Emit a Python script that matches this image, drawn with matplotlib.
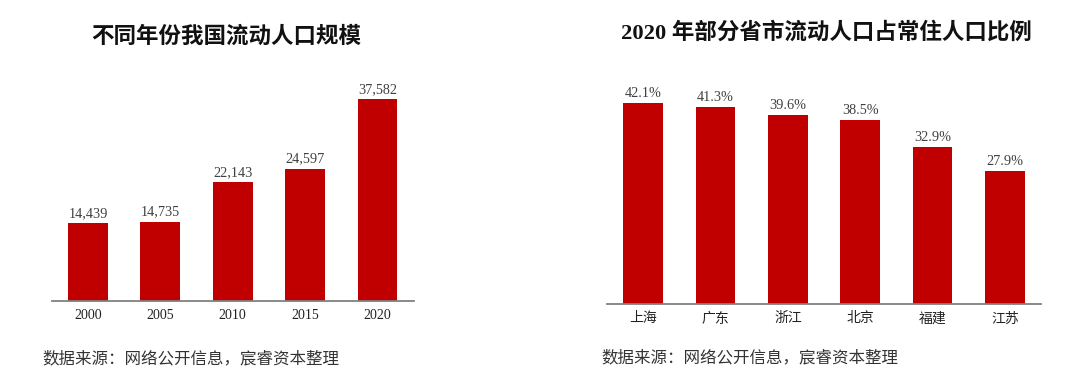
import matplotlib.pyplot as plt

plt.rcParams['font.family'] = ['Liberation Serif', 'Noto Sans CJK SC', 'DejaVu Sans']

years = ['2000', '2005', '2010', '2015', '2020']
floating_pop = [14439, 14735, 22143, 24597, 37582]

provinces = ['上海', '广东', '浙江', '北京', '福建', '江苏']
floating_share = [42.1, 41.3, 39.6, 38.5, 32.9, 27.9]

bar_color = '#C00000'
axis_color = '#808080'
source = '数据来源：网络公开信息，宸睿资本整理'

fig = plt.figure(figsize=(10.8, 3.86), dpi=100)

ax1 = fig.add_axes([0.048, 0.220, 0.335, 0.557])
ax2 = fig.add_axes([0.562, 0.2124, 0.402, 0.5565])


def style_axis(ax):
    for side in ['top', 'right', 'left']:
        ax.spines[side].set_visible(False)
    ax.spines['bottom'].set_color(axis_color)
    ax.spines['bottom'].set_linewidth(1.3)
    ax.set_yticks([])
    ax.tick_params(axis='x', length=0, pad=6)


# left: floating population by year
x1 = range(len(years))
bars1 = ax1.bar(x1, floating_pop, width=0.55, color=bar_color)
ax1.set_xlim(-0.5, len(years) - 0.5)
ax1.set_ylim(0, 40000)
ax1.set_xticks(list(x1))
ax1.set_xticklabels(years, fontsize=10, color='#222222')
style_axis(ax1)
for b, v in zip(bars1, floating_pop):
    ax1.text(b.get_x() + b.get_width() / 2, v + 600, f'{v:,}',
             ha='center', va='bottom', fontsize=10.3, color='#404040')

# right: share of floating population by province
x2 = range(len(provinces))
bars2 = ax2.bar(x2, floating_share, width=0.55, color=bar_color)
ax2.set_xlim(-0.5, len(provinces) - 0.5)
ax2.set_ylim(0, 45)
ax2.set_xticks(list(x2))
ax2.set_xticklabels(provinces, fontsize=10, color='#222222')
style_axis(ax2)
for b, v in zip(bars2, floating_share):
    ax2.text(b.get_x() + b.get_width() / 2, v + 0.6, f'{v:.1f}%',
             ha='center', va='bottom', fontsize=10.3, color='#404040')

fig.text(0.209, 0.904, '不同年份我国流动人口规模', ha='center', va='center',
         fontsize=16.2, fontweight='bold', color='#111111')
fig.text(0.765, 0.915, '2020 年部分省市流动人口占常住人口比例', ha='center', va='center',
         fontsize=16.2, fontweight='bold', color='#111111')

fig.text(0.039, 0.070, source, ha='left', va='center', fontsize=11.9, color='#333333')
fig.text(0.557, 0.072, source, ha='left', va='center', fontsize=11.9, color='#333333')

fig.savefig('out.png', dpi=100)
